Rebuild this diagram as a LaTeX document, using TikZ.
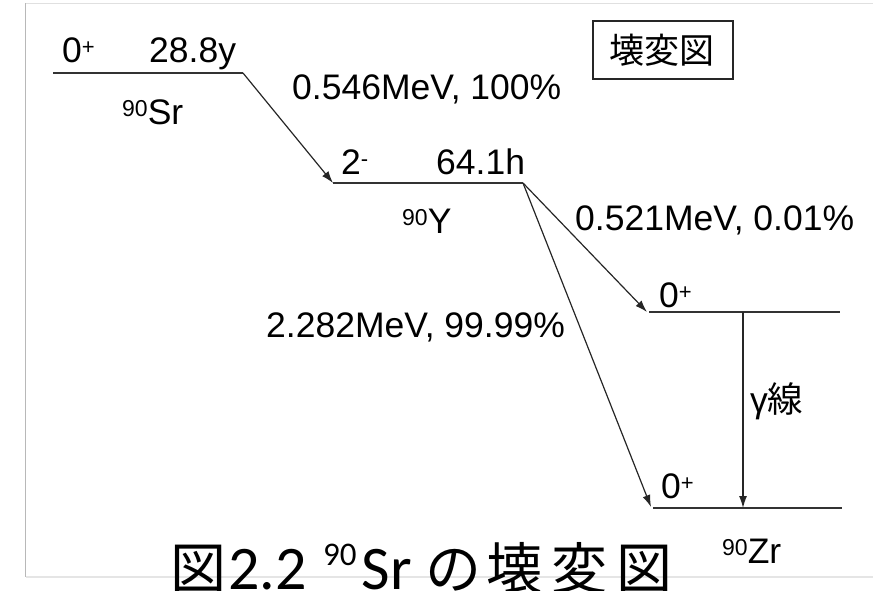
\documentclass[tikz,border=0pt]{standalone}
\usepackage{fontspec}
\setmainfont{Liberation Sans}
\newfontfamily\cjk{Noto Sans CJK JP}
\newfontfamily\capfont{Carlito}
\usetikzlibrary{arrows.meta}
\newcommand{\supsm}[1]{\raisebox{8pt}{\fontsize{22}{22}\selectfont #1}}
\newcommand{\supnum}[1]{\raisebox{8pt}{\fontsize{23}{23}\selectfont #1}}
\begin{document}
\begin{tikzpicture}[x=1pt,y=-1pt,
  lbl/.style={inner sep=0pt, anchor=base west, font=\fontsize{35.5}{36}\selectfont},
  caplat/.style={inner sep=0pt, anchor=base west, font=\fontsize{62}{62}\selectfont\capfont},
  capcjk/.style={inner sep=0pt, anchor=base west, font=\fontsize{56}{56}\selectfont\cjk},
  level/.style={draw=black!80, line width=1.8pt},
  decay/.style={draw=black!85, line width=1.2pt, -{Latex[length=12pt,width=8pt]}},
  frameline/.style={line width=1.2pt}]
\useasboundingbox (0,0) rectangle (873,591);
% faint frame
\draw[frameline, draw=black!12] (873,3.5) -- (25.5,3.5);
\draw[frameline, draw=black!28] (25.5,3.5) -- (25.5,577);
\draw[frameline, draw=black!10] (25.5,577) -- (873,577);
% level coordinates
\coordinate (srL) at (53,73);   \coordinate (srR) at (243,73);
\coordinate (yL) at (333,183);  \coordinate (yR) at (523,183);
\coordinate (zuL) at (649,312); \coordinate (zuR) at (840,312);
\coordinate (zlL) at (653,508); \coordinate (zlR) at (842,508);
\coordinate (gTop) at (743,312); \coordinate (gBot) at (743,508);
\coordinate (zuTip) at (647,312); \coordinate (zlTip) at (651,507);
% levels
\draw[level] (srL) -- (srR);
\draw[level] (yL) -- (yR);
\draw[level] (zuL) -- (zuR);
\draw[level] (zlL) -- (zlR);
% transitions
\draw[decay] (srR) -- (yL);
\draw[decay] (yR) -- (zuTip);
\draw[decay] (yR) -- (zlTip);
\draw[decay] (gTop) -- (gBot);
% labels
\node[lbl] (srspin) at (62,63) {0\supsm{+}};
\node[lbl] (srhalf) at (149,63) {28.8y};
\node[lbl] (srname) at (122,125) {\supnum{90}Sr};
\node[lbl] (e1) at (292,100) {0.546MeV, 100\%};
\node[lbl] (yspin) at (341,175) {2\supsm{-}};
\node[lbl] (yhalf) at (436,175) {64.1h};
\node[lbl] (yname) at (402,233) {\supnum{90}Y};
\node[lbl] (e2) at (575,230) {0.521MeV, 0.01\%};
\node[lbl] (e3) at (266,337) {2.282MeV, 99.99\%};
\node[lbl] (zuspin) at (659,307) {0\supsm{+}};
\node[lbl] (zlspin) at (661,498) {0\supsm{+}};
\node[lbl] (gam) at (750,412) {γ{\cjk 線}};
\node[lbl] (zrname) at (722,563) {\supnum{90}Zr};
% legend box
\draw[draw=black!85, line width=1.6pt] (593,21) rectangle (733,79);
\node[inner sep=0pt, font=\fontsize{35}{36}\selectfont\cjk] (box) at (662,50) {壊変図};
% caption
\node[capcjk] (cap1) at (170,589) {図};
\node[caplat] (cap2) at (228,589) {2.2};
\node[inner sep=0pt, anchor=base west, font=\fontsize{33}{33}\selectfont\capfont] (cap3) at (323,565) {90};
\node[caplat, anchor=base east] (cap3b) at (412,589) {Sr};
\node[capcjk] (cap4) at (425,589) {の\hspace{5pt}壊\hspace{9pt}変\hspace{9pt}図};
\end{tikzpicture}
\end{document}
